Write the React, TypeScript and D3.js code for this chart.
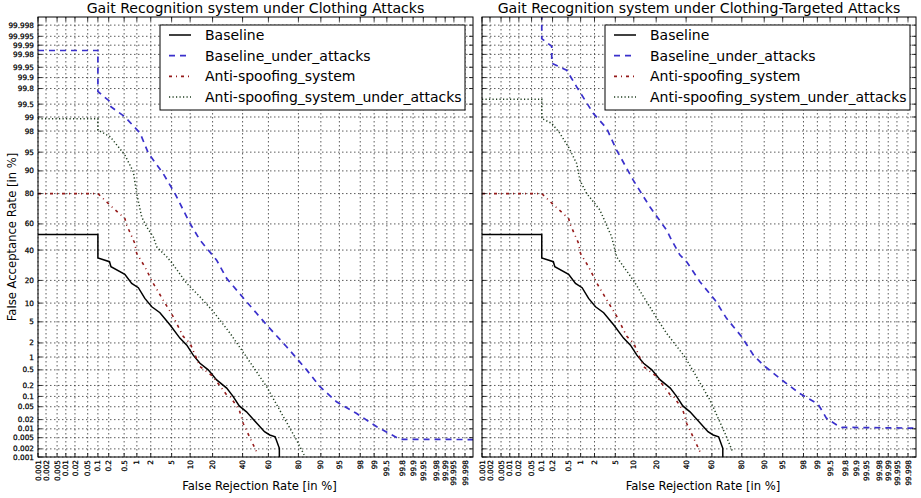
import React from "react";
import * as d3 from "d3";

// DET curves, values in percent: [false rejection, false acceptance]
const tickValues = [0.001, 0.002, 0.005, 0.01, 0.02, 0.05, 0.1, 0.2, 0.5, 1, 2, 5, 10, 20, 40, 60, 80, 90, 95, 98, 99, 99.5, 99.8, 99.9, 99.95, 99.98, 99.99, 99.995, 99.998];
const seriesNames = ["Baseline", "Baseline_under_attacks", "Anti-spoofing_system", "Anti-spoofing_system_under_attacks"];

const baseline = [
  [0.001, 52], [0.1, 52], [0.1, 34.3], [0.21, 31.6], [0.23, 28.2], [0.52, 23.5], [0.76, 18.4], [1.08, 16.3],
  [1.5, 11.7], [2.1, 8.8], [3.05, 7.1], [4.7, 4.4], [6.9, 2.5], [8.9, 1.8], [11.1, 1.1], [13.8, 0.72],
  [17.7, 0.5], [22.3, 0.28], [28.6, 0.17], [33, 0.1], [37.5, 0.053], [43, 0.035], [57, 0.008],
  [61, 0.0062], [65, 0.0054], [68, 0.0021], [68, 0.0008],
];
const antiSpoofing = [
  [0.001, 80], [0.1, 80], [0.22, 73], [0.52, 64], [0.58, 59], [0.9, 45], [0.99, 37.6], [1.5, 28.2],
  [2.25, 18.4], [3.5, 11.1], [5.35, 6.1], [7.8, 2.7], [10, 1.96], [13.8, 0.6], [20, 0.35], [28.6, 0.11],
  [31, 0.098], [37.5, 0.04], [40.5, 0.015], [51, 0.0015],
];
const baselineAttacksClothing = [
  [0.001, 99.985], [0.1, 99.985], [0.1, 99.76], [0.22, 99.56], [0.23, 99.42], [0.52, 99.01], [1.18, 97.8],
  [1.78, 94.8], [3.5, 89.1], [5.7, 80.1], [9.95, 60.4], [13.8, 47.6], [22.3, 32.7], [28.6, 21.1],
  [43, 10.5], [58.7, 4.4], [72.9, 1.67], [84.2, 0.5], [89.7, 0.185], [94.4, 0.07], [97.6, 0.0315],
  [99.13, 0.0118], [99.77, 0.0044], [99.9995, 0.0043],
];
const antiSpoofAttacksClothing = [
  [0.001, 98.9], [0.1, 98.9], [0.1, 98.1], [0.22, 97.4], [0.52, 94.4], [0.83, 89.7], [0.99, 80.1],
  [1.28, 65.2], [1.64, 57.8], [2.25, 50.2], [2.63, 42.5], [4.1, 35], [5, 31], [8.9, 18.4], [13.8, 12.3],
  [20.4, 7.4], [30.9, 3.1], [43, 1.0], [58.7, 0.185], [70.7, 0.025], [79, 0.0041], [83, 0.0012],
];
const baselineAttacksTargeted = [
  [0.1, 99.9999], [0.1, 99.994], [0.19, 99.989], [0.19, 99.962], [0.465, 99.939], [0.81, 99.82],
  [1.89, 99.17], [3.48, 98.24], [5.27, 95.4], [9.8, 86.5], [16.7, 72.1], [26.2, 55.3], [29.5, 47.6],
  [35.4, 36.3], [40.4, 31.6], [50.7, 19.3], [62.3, 11.1], [70.6, 5.74], [79.9, 2.66], [85.7, 1.11],
  [89.7, 0.65], [94.8, 0.28], [97.6, 0.122], [98.96, 0.063], [99.05, 0.058], [99.39, 0.022],
  [99.66, 0.0134], [99.75, 0.0112], [99.9995, 0.0105],
];
const antiSpoofAttacksTargeted = [
  [0.001, 99.62], [0.1, 99.62], [0.1, 98.92], [0.19, 98.62], [0.31, 97.8], [0.51, 96], [0.81, 92.3],
  [0.96, 86.5], [1.36, 80.1], [2.58, 69.9], [4.3, 50.2], [5.3, 34.8], [9.8, 20.2], [19.3, 6.5],
  [26.2, 3.09], [39.1, 1.01], [58.5, 0.079], [69.5, 0.0071], [74.5, 0.0016],
];

// inverse normal cdf (Acklam)
const probit = (p) => {
  const a = [-39.69683028665376, 220.9460984245205, -275.9285104469687, 138.357751867269, -30.66479806614716, 2.506628277459239];
  const b = [-54.47609879822406, 161.5858368580409, -155.6989798598866, 66.80131188771972, -13.28068155288572];
  const c = [-0.007784894002430293, -0.3223964580411365, -2.400758277161838, -2.549732539343734, 4.374664141464968, 2.938163982698783];
  const d = [0.007784695709041462, 0.3224671290700398, 2.445134137142996, 3.754408661907416];
  const lo = 0.02425;
  if (p < lo) {
    const q = Math.sqrt(-2 * Math.log(p));
    return (((((c[0] * q + c[1]) * q + c[2]) * q + c[3]) * q + c[4]) * q + c[5]) / ((((d[0] * q + d[1]) * q + d[2]) * q + d[3]) * q + 1);
  }
  if (p > 1 - lo) {
    const q = Math.sqrt(-2 * Math.log(1 - p));
    return -(((((c[0] * q + c[1]) * q + c[2]) * q + c[3]) * q + c[4]) * q + c[5]) / ((((d[0] * q + d[1]) * q + d[2]) * q + d[3]) * q + 1);
  }
  const q = p - 0.5;
  const r = q * q;
  return (((((a[0] * r + a[1]) * r + a[2]) * r + a[3]) * r + a[4]) * r + a[5]) * q / (((((b[0] * r + b[1]) * r + b[2]) * r + b[3]) * r + b[4]) * r + 1);
};

const styles = [
  { color: "#000000", dash: null, width: 1.5 },
  { color: "#3a30cc", dash: "6,5", width: 1.7 },
  { color: "#951a1a", dash: "3,4,1,4", width: 1.6 },
  { color: "#1e3d1e", dash: "1.2,2.3", width: 1.5 },
];

const FONT = "DejaVu Sans";
const TOP = 17;
const BOTTOM = 457;
const dom = [probit(0.00001), probit(0.99999)];

const Panel = ({ id, x0, x1, title, series, showY, legendX }) => {
  const xs = d3.scaleLinear().domain(dom).range([x0, x1]);
  const ys = d3.scaleLinear().domain(dom).range([BOTTOM, TOP]);
  const line = d3
    .line()
    .x((d) => xs(probit(d[0] / 100)))
    .y((d) => ys(probit(d[1] / 100)));

  return (
    <g>
      <defs>
        <clipPath id={id}>
          <rect x={x0} y={TOP} width={x1 - x0} height={BOTTOM - TOP} />
        </clipPath>
      </defs>
      <text x={(x0 + x1) / 2} y={13} textAnchor="middle" fontSize={14.1} fontFamily={FONT}>{title}</text>

      {/* grid */}
      {tickValues.map((t) => (
        <g key={"g" + t} stroke="#333" strokeWidth={0.8} strokeDasharray="1.5,2.5">
          <line x1={xs(probit(t / 100))} x2={xs(probit(t / 100))} y1={TOP} y2={BOTTOM} />
          <line x1={x0} x2={x1} y1={ys(probit(t / 100))} y2={ys(probit(t / 100))} />
        </g>
      ))}

      {/* curves */}
      <g clipPath={`url(#${id})`}>
        {series.map((s, i) => (
          <path key={i} d={line(s)} fill="none" stroke={styles[i].color} strokeWidth={styles[i].width}
            strokeDasharray={styles[i].dash || undefined} />
        ))}
      </g>

      {/* ticks */}
      {tickValues.map((t) => {
        const x = xs(probit(t / 100));
        const y = ys(probit(t / 100));
        return (
          <g key={"t" + t} stroke="#000" strokeWidth={0.8}>
            <line x1={x} x2={x} y1={BOTTOM} y2={BOTTOM - 4} />
            <line x1={x} x2={x} y1={TOP} y2={TOP + 4} />
            <line x1={x0} x2={x0 + 4} y1={y} y2={y} />
            <line x1={x1} x2={x1 - 4} y1={y} y2={y} />
          </g>
        );
      })}
      <rect x={x0} y={TOP} width={x1 - x0} height={BOTTOM - TOP} fill="none" stroke="#000" strokeWidth={1} />

      {/* tick labels */}
      {tickValues.map((t) => (
        <text key={"xl" + t} transform={`translate(${xs(probit(t / 100))},${BOTTOM + 3}) rotate(-90)`}
          textAnchor="end" dy="0.35em" fontSize={7.3} fontFamily={FONT} stroke="#000" strokeWidth={0.25}>{t}</text>
      ))}
      {showY && tickValues.map((t) => (
        <text key={"yl" + t} x={x0 - 4} y={ys(probit(t / 100))} textAnchor="end" dy="0.35em"
          fontSize={7.3} fontFamily={FONT} stroke="#000" strokeWidth={0.25}>{t}</text>
      ))}

      <text x={(x0 + x1) / 2 + 4} y={490} textAnchor="middle" fontSize={11.6} fontFamily={FONT}>False Rejection Rate [in %]</text>
      {showY && (
        <text transform={`translate(16,${(TOP + BOTTOM) / 2}) rotate(-90)`} textAnchor="middle" fontSize={11.6} fontFamily={FONT}>
          False Acceptance Rate [in %]
        </text>
      )}

      {/* legend */}
      <rect x={legendX} y={25} width={305} height={85} fill="#fff" stroke="#000" strokeWidth={1} />
      {seriesNames.map((n, i) => {
        const y = 35 + i * 20.7;
        return (
          <g key={n}>
            <line x1={legendX + 9} x2={legendX + 31} y1={y} y2={y} stroke={styles[i].color}
              strokeWidth={styles[i].width} strokeDasharray={styles[i].dash || undefined} />
            <text x={legendX + 45} y={y} dy="0.35em" fontSize={14} fontFamily={FONT}>{n}</text>
          </g>
        );
      })}
    </g>
  );
};

export default function App() {
  return (
    <svg width={921} height={498} style={{ position: "absolute", left: 0, top: 0, background: "#fff" }}>
      <rect width={921} height={498} fill="#fff" />
      <Panel id="clipA" x0={38} x1={473} title="Gait Recognition system under Clothing Attacks"
        series={[baseline, baselineAttacksClothing, antiSpoofing, antiSpoofAttacksClothing]} showY={true} legendX={160} />
      <Panel id="clipB" x0={482} x1={916} title="Gait Recognition system under Clothing-Targeted Attacks"
        series={[baseline, baselineAttacksTargeted, antiSpoofing, antiSpoofAttacksTargeted]} showY={false} legendX={605} />
    </svg>
  );
}
